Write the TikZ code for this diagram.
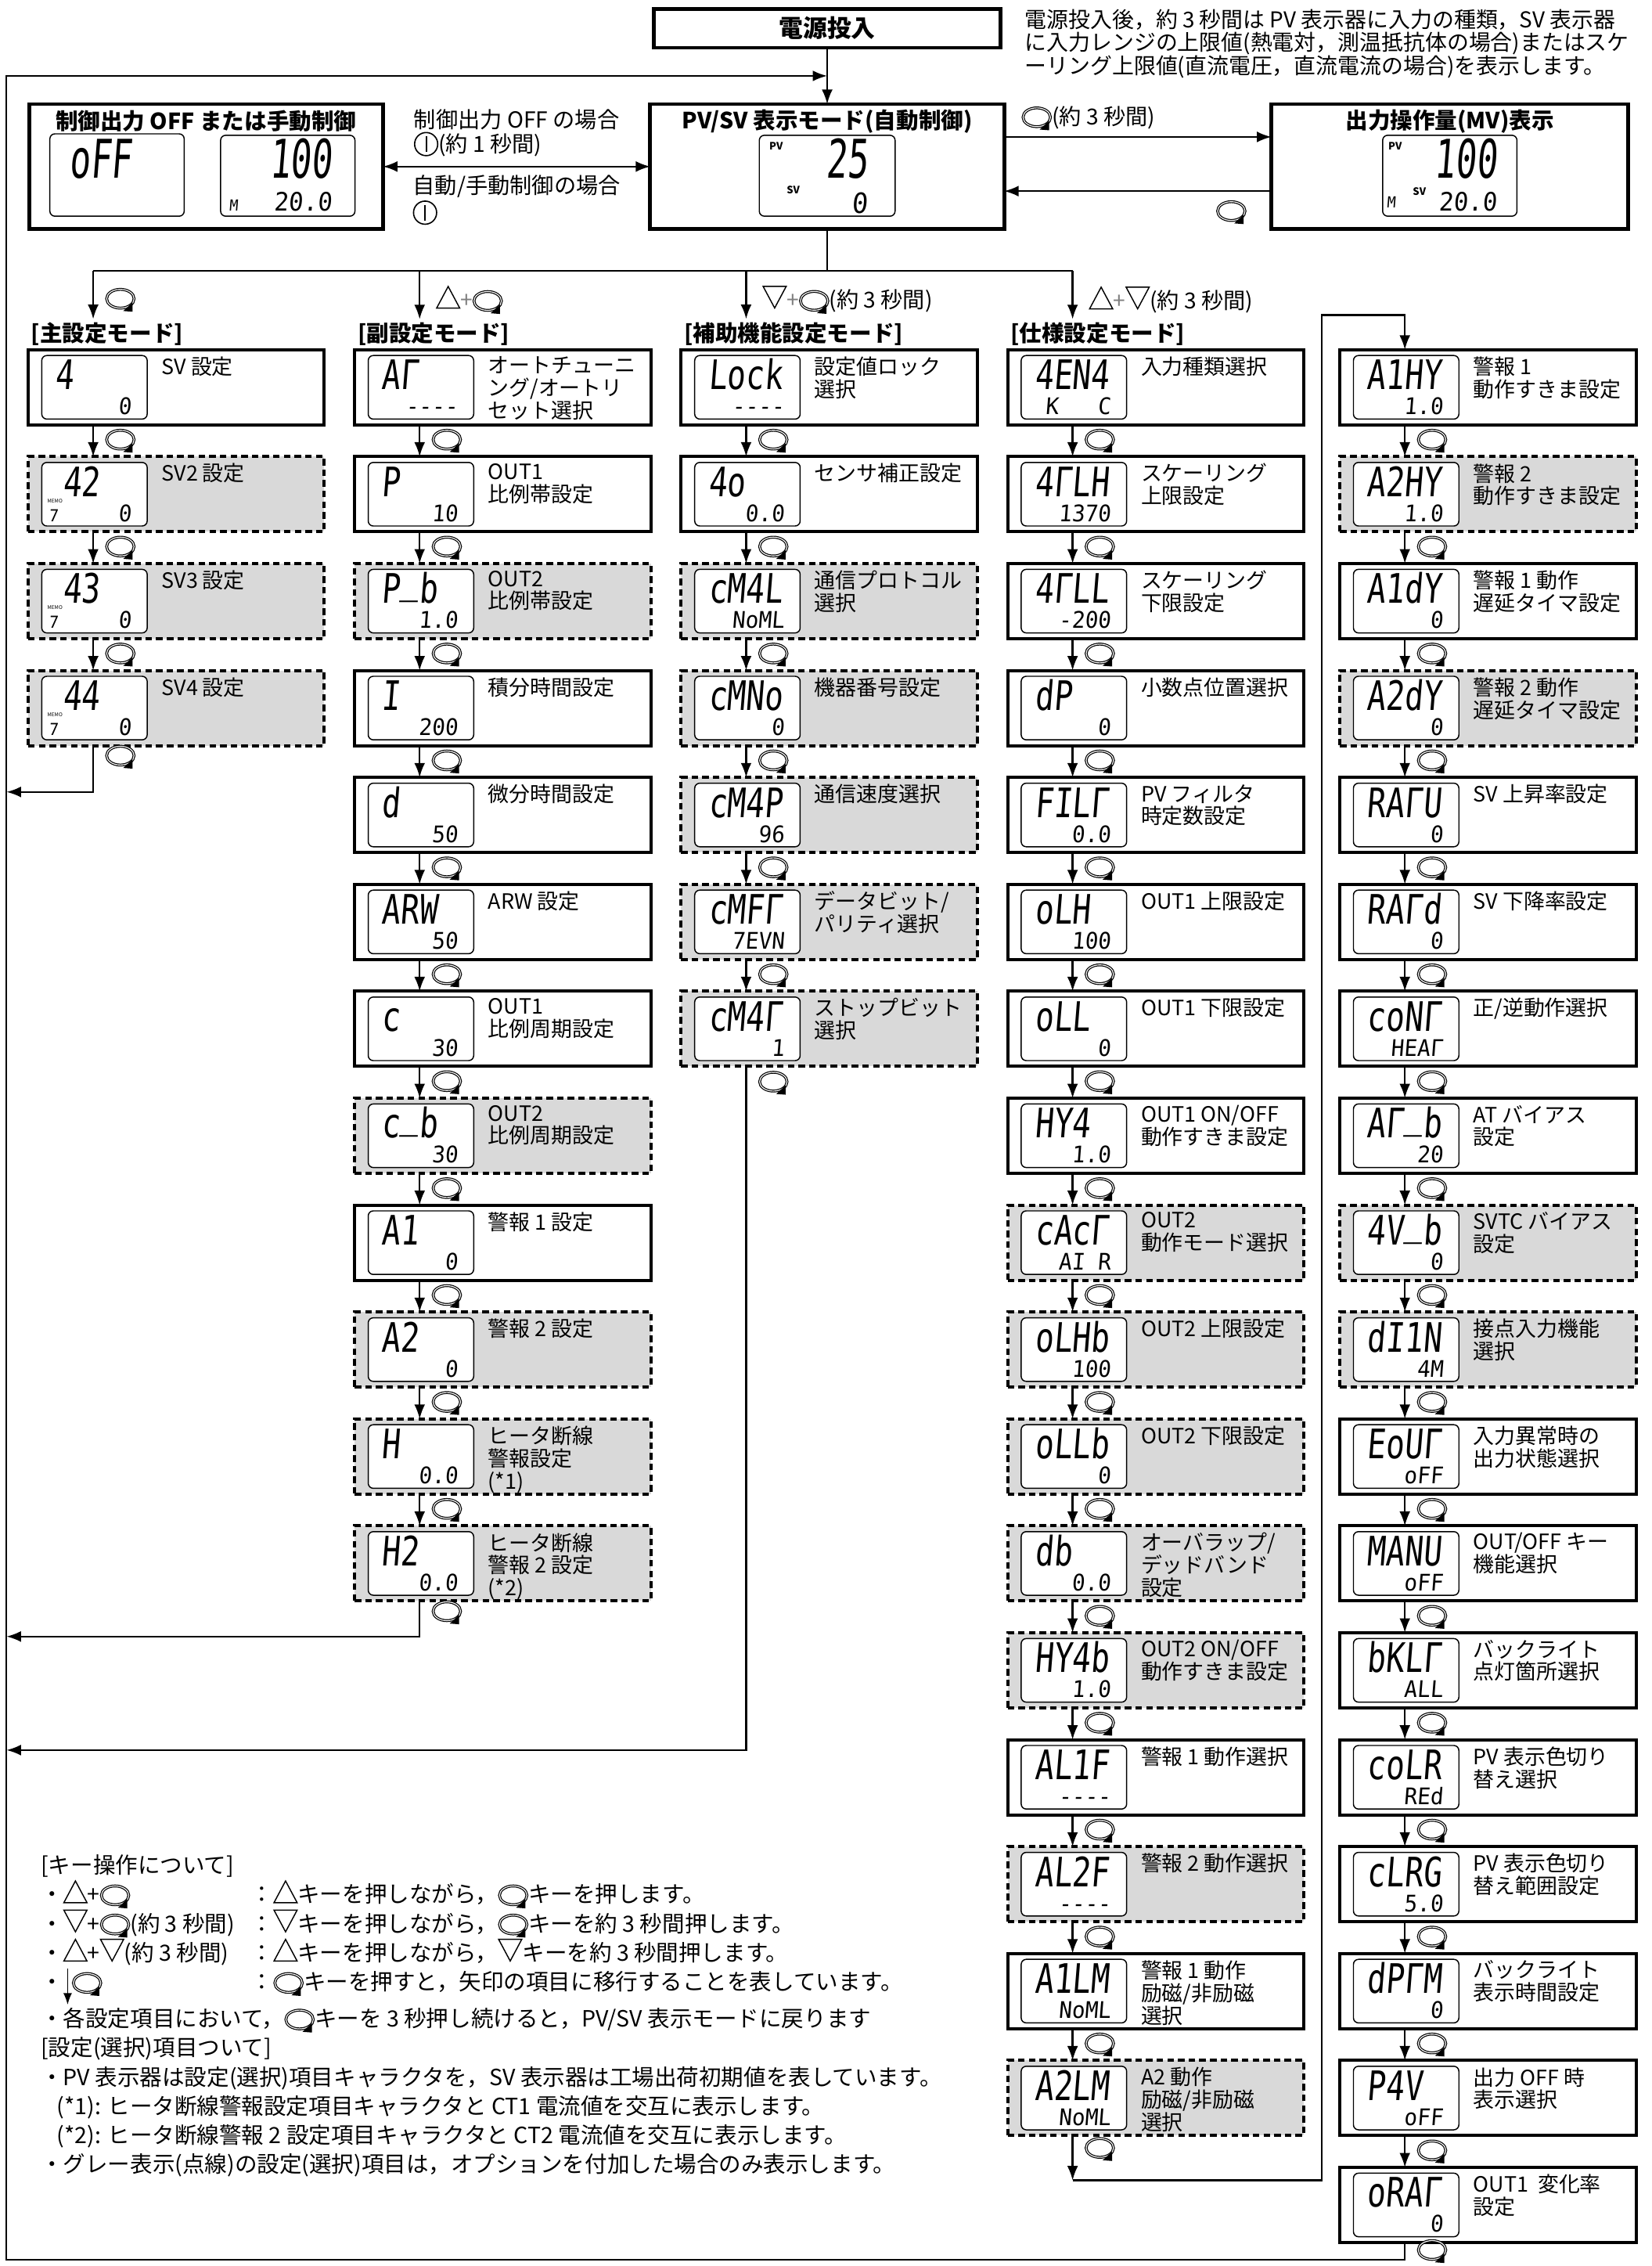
\documentclass[tikz,border=0pt]{standalone}
\usepackage{fontspec}
\setmainfont{Noto Sans CJK JP}
\newfontfamily\segfont{DejaVu Sans Mono}[FakeSlant=0.08,FakeStretch=0.76]
\newfontfamily\segwide{DejaVu Sans Mono}[FakeSlant=0.08,FakeStretch=0.95]
\newfontfamily\segbig{DejaVu Sans Mono}[FakeSlant=0.08,FakeStretch=0.65]
\usepackage{xcolor}
\usepackage{tikz}
\usetikzlibrary{arrows.meta,positioning,calc}
\definecolor{optgray}{HTML}{D9D9D9}

% key symbols
\newcommand{\modekey}{\tikz[baseline=-0.6ex]{%
  \draw[-,line width=1.1pt] (0,0) ellipse (0.19cm and 0.13cm);
  \draw[-,white,line width=0.35pt] (0,0) ellipse (0.19cm and 0.13cm);
  \fill (0.04cm,-0.17cm) -- (0.17cm,-0.05cm) -- (0.17cm,-0.18cm) -- cycle;}}
\newcommand{\offkey}{\tikz[baseline=-0.65ex]{%
  \draw[-,line width=0.5pt] (0,0) circle (0.16cm);
  \draw[-,line width=0.6pt] (0,-0.11cm) -- (0,0.11cm);}}
\newcommand{\upkey}{\tikz[baseline=0pt]{\draw[-,line width=0.45pt] (0,0) -- (0.32cm,0) -- (0.16cm,0.3cm) -- cycle;}}
\newcommand{\dnkey}{\tikz[baseline=0pt]{\draw[-,line width=0.45pt] (0,0.3cm) -- (0.32cm,0.3cm) -- (0.16cm,0) -- cycle;}}
\newcommand{\downmark}{\tikz[baseline=0pt]{\draw[line width=0.5pt,-{Latex[length=0.16cm,width=0.12cm]}] (0,0.3cm) -- (0,-0.2cm);}}
\newcommand{\segbar}{\raisebox{0.25em}{\_}}

% setting item: name, box style, placement, PV text, SV text, label
\newcommand{\sitem}[6]{%
  \node[#2,#3] (#1) {};
  \node[lcd,anchor=west] (lcd-#1) at ([xshift=0.18cm]#1.west) {};
  \node[segup] at ([shift={(0.19cm,-0.48cm)}]lcd-#1.north west) {#4};
  \node[seglo] at ([shift={(-0.22cm,0.07cm)}]lcd-#1.south east) {#5};
  \node[itemlabel] at ([shift={(1.84cm,-0.09cm)}]#1.north west) {#6};}

\begin{document}
\begin{tikzpicture}[x=0.02cm, y=-0.02cm,
  conn/.style={line width=0.7pt},
  arr/.style={conn, -{Latex[length=0.2cm,width=0.15cm]}},
  arr2/.style={conn, {Latex[length=0.2cm,width=0.15cm]}-{Latex[length=0.2cm,width=0.15cm]}},
  topbox/.style={draw, line width=1.5pt, minimum width=4.9cm, minimum height=1.73cm, inner sep=0pt, outer sep=0pt},
  pwrbox/.style={draw, line width=1.5pt, minimum width=4.8cm, minimum height=0.54cm, inner sep=0pt, outer sep=0pt, font=\bfseries\fontsize{9.5}{10}\selectfont},
  setbox/.style={draw, line width=1.2pt, fill=white, minimum width=4.1cm, minimum height=1.04cm, inner sep=0pt, outer sep=0pt},
  optbox/.style={setbox, fill=optgray, dash pattern=on 2.6pt off 1.6pt},
  lcd/.style={draw, line width=0.45pt, rounded corners=2pt, fill=white, minimum width=1.46cm, minimum height=0.88cm, inner sep=0pt},
  segup/.style={anchor=base west, inner sep=0pt, font=\segfont\fontsize{16}{16}\selectfont},
  seglo/.style={anchor=base east, inner sep=0pt, font=\segwide\fontsize{9}{9}\selectfont},
  bigseg/.style={inner sep=0pt, font=\segbig\fontsize{21}{21}\selectfont},
  midseg/.style={inner sep=0pt, font=\segwide\fontsize{10}{10}\selectfont},
  tinytxt/.style={inner sep=0pt, font=\bfseries\fontsize{4}{4}\selectfont},
  itemlabel/.style={anchor=north west, inner sep=0pt, align=left, font=\fontsize{8.3}{8.9}\selectfont},
  boxtitle/.style={inner sep=0pt, font=\bfseries\fontsize{8.8}{10}\selectfont},
  hdr/.style={anchor=south west, inner sep=1pt, font=\bfseries\fontsize{8.8}{10}\selectfont},
  arrowlab/.style={inner sep=1pt, align=left, font=\fontsize{8.7}{9.4}\selectfont},
  keylab/.style={right=0.16cm, inner sep=0pt},
  modelab/.style={right=0.22cm, inner sep=0pt, font=\fontsize{8.7}{9.4}\selectfont},
  notetext/.style={anchor=north west, inner sep=0pt, align=left, font=\fontsize{8.6}{9.1}\selectfont},
  keynotes/.style={anchor=north west, inner sep=0pt, align=left, font=\fontsize{8.8}{11.5}\selectfont}
]
\path[use as bounding box, fill=white] (0,0) rectangle (1143,1568);

% top row
\node[topbox] (pvsv) at (572.5,115.25) {};
\node[topbox, left=3.7cm of pvsv] (offbox) {};
\node[topbox, minimum width=4.94cm, right=3.7cm of pvsv] (mv) {};
\node[pwrbox, above=0.78cm of pvsv] (power) {電源投入};
\node[notetext] (note) at (709,6) {電源投入後，約 3 秒間は PV 表示器に入力の種類，SV 表示器\\に入力レンジの上限値(熱電対，測温抵抗体の場合)またはスケ\\ーリング上限値(直流電圧，直流電流の場合)を表示します。};

\node[boxtitle] at ([yshift=-0.24cm]offbox.north) {制御出力 OFF または手動制御};
\node[boxtitle] at ([yshift=-0.24cm]pvsv.north) {PV/SV 表示モード(自動制御)};
\node[boxtitle] at ([yshift=-0.24cm]mv.north) {出力操作量(MV)表示};

\node[lcd, minimum width=1.86cm, minimum height=1.14cm, anchor=south west] (lcd-off) at ([shift={(0.28cm,0.17cm)}]offbox.south west) {};
\node[lcd, minimum width=1.86cm, minimum height=1.12cm, anchor=south east] (lcd-man) at ([shift={(-0.38cm,0.17cm)}]offbox.south east) {};
\node[lcd, minimum width=1.88cm, minimum height=1.12cm, anchor=south] (lcd-pv) at ([yshift=0.17cm]pvsv.south) {};
\node[lcd, minimum width=1.86cm, minimum height=1.12cm, anchor=south] (lcd-mv) at ([yshift=0.17cm]mv.south) {};

\node[bigseg, anchor=base west] at ([shift={(0.27cm,-0.62cm)}]lcd-off.north west) {oFF};
\node[bigseg, anchor=base east] at ([shift={(-0.32cm,-0.6cm)}]lcd-man.north east) {100};
\node[midseg, anchor=base east] at ([shift={(-0.32cm,0.08cm)}]lcd-man.south east) {20.0};
\node[tinytxt, font=\segwide\fontsize{6}{6}\selectfont, anchor=base west] at ([shift={(0.12cm,0.08cm)}]lcd-man.south west) {M};

\node[tinytxt, anchor=north west] at ([shift={(0.14cm,-0.1cm)}]lcd-pv.north west) {PV};
\node[bigseg, anchor=base east] at ([shift={(-0.38cm,-0.6cm)}]lcd-pv.north east) {25};
\node[tinytxt, anchor=base west] at ([shift={(0.38cm,0.32cm)}]lcd-pv.south west) {SV};
\node[midseg, font=\segwide\fontsize{11}{11}\selectfont, anchor=base east] at ([shift={(-0.38cm,0.05cm)}]lcd-pv.south east) {0};

\node[tinytxt, anchor=north west] at ([shift={(0.08cm,-0.1cm)}]lcd-mv.north west) {PV};
\node[bigseg, anchor=base east] at ([shift={(-0.28cm,-0.6cm)}]lcd-mv.north east) {100};
\node[tinytxt, font=\segwide\fontsize{6}{6}\selectfont, anchor=base west] at ([shift={(0.06cm,0.12cm)}]lcd-mv.south west) {M};
\node[tinytxt, anchor=base west] at ([shift={(0.42cm,0.3cm)}]lcd-mv.south west) {SV};
\node[midseg, anchor=base east] at ([shift={(-0.28cm,0.08cm)}]lcd-mv.south east) {20.0};

\coordinate (join) at ($(power.south)!0.5!(pvsv.north)$);
\draw[arr] (power) -- (pvsv);
\draw[arr2] (offbox) -- (pvsv)
  node[midway, above=0.1cm, arrowlab] {制御出力 OFF の場合\\\offkey(約 1 秒間)}
  node[midway, below=0.08cm, arrowlab] {自動/手動制御の場合\\\offkey};
\draw[arr] ([yshift=0.41cm]pvsv.east) -- ([yshift=0.41cm]mv.west)
  node[pos=0, anchor=south west, xshift=0.2cm, yshift=0.05cm, arrowlab] {\modekey(約 3 秒間)};
\draw[arr] ([yshift=-0.34cm]mv.west) -- ([yshift=-0.34cm]pvsv.east)
  node[pos=0.15, below=0.12cm, inner sep=0pt] {\modekey};

% main setting mode
\sitem{main1}{setbox}{anchor=north west, at={(19.5,242)}}{4}{0}{SV 設定}
\sitem{main2}{optbox}{below=0.44cm of main1}{\hspace*{0.1cm}42}{0}{SV2 設定}
\sitem{main3}{optbox}{below=0.44cm of main2}{\hspace*{0.1cm}43}{0}{SV3 設定}
\sitem{main4}{optbox}{below=0.44cm of main3}{\hspace*{0.1cm}44}{0}{SV4 設定}
\foreach \m in {main2,main3,main4}{
  \node[inner sep=0pt, font=\segwide\fontsize{6.5}{6.5}\selectfont, anchor=base west] at ([shift={(0.1cm,0.07cm)}]lcd-\m.south west) {7};
  \node[inner sep=0pt, font=\fontsize{2}{2.4}\selectfont, anchor=base west] at ([shift={(0.08cm,0.33cm)}]lcd-\m.south west) {MEMO};
}

% sub setting mode
\sitem{sub1}{setbox}{right=0.42cm of main1}{AΓ}{-{}-{}-{}-}{オートチューニ\\ング/オートリ\\セット選択}
\sitem{sub2}{setbox}{below=0.44cm of sub1}{P}{10}{OUT1\\比例帯設定}
\sitem{sub3}{optbox}{below=0.44cm of sub2}{P\segbar b}{1.0}{OUT2\\比例帯設定}
\sitem{sub4}{setbox}{below=0.44cm of sub3}{I}{200}{積分時間設定}
\sitem{sub5}{setbox}{below=0.44cm of sub4}{d}{50}{微分時間設定}
\sitem{sub6}{setbox}{below=0.44cm of sub5}{ARW}{50}{ARW 設定}
\sitem{sub7}{setbox}{below=0.44cm of sub6}{c}{30}{OUT1\\比例周期設定}
\sitem{sub8}{optbox}{below=0.44cm of sub7}{c\segbar b}{30}{OUT2\\比例周期設定}
\sitem{sub9}{setbox}{below=0.44cm of sub8}{A1}{0}{警報 1 設定}
\sitem{sub10}{optbox}{below=0.44cm of sub9}{A2}{0}{警報 2 設定}
\sitem{sub11}{optbox}{below=0.44cm of sub10}{H}{0.0}{ヒータ断線\\警報設定\\(*1)}
\sitem{sub12}{optbox}{below=0.44cm of sub11}{H2}{0.0}{ヒータ断線\\警報 2 設定\\(*2)}

% auxiliary function setting mode
\sitem{aux1}{setbox}{right=0.42cm of sub1}{Lock}{-{}-{}-{}-}{設定値ロック\\選択}
\sitem{aux2}{setbox}{below=0.44cm of aux1}{4o}{0.0}{センサ補正設定}
\sitem{aux3}{optbox}{below=0.44cm of aux2}{cM4L}{NoML}{通信プロトコル\\選択}
\sitem{aux4}{optbox}{below=0.44cm of aux3}{cMNo}{0}{機器番号設定}
\sitem{aux5}{optbox}{below=0.44cm of aux4}{cM4P}{96}{通信速度選択}
\sitem{aux6}{optbox}{below=0.44cm of aux5}{cMFΓ}{7EVN}{データビット/\\パリティ選択}
\sitem{aux7}{optbox}{below=0.44cm of aux6}{cM4Γ}{1}{ストップビット\\選択}

% specification setting mode
\sitem{spec1}{setbox}{right=0.42cm of aux1}{4EN4}{K~~~C}{入力種類選択}
\sitem{spec2}{setbox}{below=0.44cm of spec1}{4ΓLH}{1370}{スケーリング\\上限設定}
\sitem{spec3}{setbox}{below=0.44cm of spec2}{4ΓLL}{-200}{スケーリング\\下限設定}
\sitem{spec4}{setbox}{below=0.44cm of spec3}{dP}{0}{小数点位置選択}
\sitem{spec5}{setbox}{below=0.44cm of spec4}{FILΓ}{0.0}{PV フィルタ\\時定数設定}
\sitem{spec6}{setbox}{below=0.44cm of spec5}{oLH}{100}{OUT1 上限設定}
\sitem{spec7}{setbox}{below=0.44cm of spec6}{oLL}{0}{OUT1 下限設定}
\sitem{spec8}{setbox}{below=0.44cm of spec7}{HY4}{1.0}{OUT1 ON/OFF\\動作すきま設定}
\sitem{spec9}{optbox}{below=0.44cm of spec8}{cAcΓ}{AI R}{OUT2\\動作モード選択}
\sitem{spec10}{optbox}{below=0.44cm of spec9}{oLHb}{100}{OUT2 上限設定}
\sitem{spec11}{optbox}{below=0.44cm of spec10}{oLLb}{0}{OUT2 下限設定}
\sitem{spec12}{optbox}{below=0.44cm of spec11}{db}{0.0}{オーバラップ/\\デッドバンド\\設定}
\sitem{spec13}{optbox}{below=0.44cm of spec12}{HY4b}{1.0}{OUT2 ON/OFF\\動作すきま設定}
\sitem{spec14}{setbox}{below=0.44cm of spec13}{AL1F}{-{}-{}-{}-}{警報 1 動作選択}
\sitem{spec15}{optbox}{below=0.44cm of spec14}{AL2F}{-{}-{}-{}-}{警報 2 動作選択}
\sitem{spec16}{setbox}{below=0.44cm of spec15}{A1LM}{NoML}{警報 1 動作\\励磁/非励磁\\選択}
\sitem{spec17}{optbox}{below=0.44cm of spec16}{A2LM}{NoML}{A2 動作\\励磁/非励磁\\選択}

\sitem{spec18}{setbox}{right=0.5cm of spec1}{A1HY}{1.0}{警報 1\\動作すきま設定}
\sitem{spec19}{optbox}{below=0.44cm of spec18}{A2HY}{1.0}{警報 2\\動作すきま設定}
\sitem{spec20}{setbox}{below=0.44cm of spec19}{A1dY}{0}{警報 1 動作\\遅延タイマ設定}
\sitem{spec21}{optbox}{below=0.44cm of spec20}{A2dY}{0}{警報 2 動作\\遅延タイマ設定}
\sitem{spec22}{setbox}{below=0.44cm of spec21}{RAΓU}{0}{SV 上昇率設定}
\sitem{spec23}{setbox}{below=0.44cm of spec22}{RAΓd}{0}{SV 下降率設定}
\sitem{spec24}{setbox}{below=0.44cm of spec23}{coNΓ}{HEAΓ}{正/逆動作選択}
\sitem{spec25}{setbox}{below=0.44cm of spec24}{AΓ\segbar b}{20}{AT バイアス\\設定}
\sitem{spec26}{optbox}{below=0.44cm of spec25}{4V\segbar b}{0}{SVTC バイアス\\設定}
\sitem{spec27}{optbox}{below=0.44cm of spec26}{dI1N}{4M}{接点入力機能\\選択}
\sitem{spec28}{setbox}{below=0.44cm of spec27}{EoUΓ}{oFF}{入力異常時の\\出力状態選択}
\sitem{spec29}{setbox}{below=0.44cm of spec28}{MANU}{oFF}{OUT/OFF キー\\機能選択}
\sitem{spec30}{setbox}{below=0.44cm of spec29}{bKLΓ}{ALL}{バックライト\\点灯箇所選択}
\sitem{spec31}{setbox}{below=0.44cm of spec30}{coLR}{REd}{PV 表示色切り\\替え選択}
\sitem{spec32}{setbox}{below=0.44cm of spec31}{cLRG}{5.0}{PV 表示色切り\\替え範囲設定}
\sitem{spec33}{setbox}{below=0.44cm of spec32}{dPΓM}{0}{バックライト\\表示時間設定}
\sitem{spec34}{setbox}{below=0.44cm of spec33}{P4V}{oFF}{出力 OFF 時\\表示選択}
\sitem{spec35}{setbox}{below=0.44cm of spec34}{oRAΓ}{0}{OUT1~ 変化率\\設定}

% mode headers and branches
\node[hdr] (h1) at ([yshift=0.02cm]main1.north west) {[主設定モード]};
\node[hdr] (h2) at ([yshift=0.02cm]sub1.north west) {[副設定モード]};
\node[hdr] (h3) at ([yshift=0.02cm]aux1.north west) {[補助機能設定モード]};
\node[hdr] (h4) at ([yshift=0.02cm]spec1.north west) {[仕様設定モード]};
\coordinate (lane1) at ([xshift=0.9cm]main1.north west);
\coordinate (lane2) at ([xshift=0.9cm]sub1.north west);
\coordinate (lane3) at ([xshift=0.9cm]aux1.north west);
\coordinate (lane4) at ([xshift=0.9cm]spec1.north west);
\coordinate (bus) at ([yshift=-0.58cm]pvsv.south);

\draw[conn] (pvsv) -- (bus);
\draw[conn] (lane1 |- bus) -- (lane4 |- bus);
\draw[arr] (lane1 |- bus) -- (lane1 |- h1.north) node[pos=0.6, keylab] {\modekey};
\draw[arr] (lane2 |- bus) -- (lane2 |- h2.north) node[pos=0.6, modelab] {\upkey{\color{gray}+}\modekey};
\draw[arr] (lane3 |- bus) -- (lane3 |- h3.north) node[pos=0.6, modelab] {\dnkey{\color{gray}+}\modekey(約 3 秒間)};
\draw[arr] (lane4 |- bus) -- (lane4 |- h4.north) node[pos=0.6, modelab] {\upkey{\color{gray}+}\dnkey(約 3 秒間)};

% steps inside each mode
\foreach \col/\first/\last in {main/2/4, sub/2/12, aux/2/7, spec/2/17, spec/19/35}{
  \foreach \i in {\first,...,\last}{
    \pgfmathtruncatemacro\j{\i-1}
    \draw[arr] ([xshift=0.9cm]\col\j.south west) -- ([xshift=0.9cm]\col\i.north west)
      node[midway, keylab] {\modekey};
  }
}

% returns to PV/SV display
\coordinate (back) at (4.5,1563.6);
\coordinate (r1) at (4.5,548);
\coordinate (r2) at (4.5,1132.4);
\coordinate (r3) at (4.5,1211);
\draw[arr] ([xshift=0.9cm]main4.south west) |- (r1) node[pos=0.12, keylab] {\modekey};
\draw[arr] ([xshift=0.9cm]sub12.south west) |- (r2) node[pos=0.16, keylab] {\modekey};
\draw[arr] ([xshift=0.9cm]aux7.south west) |- (r3) node[pos=0.012, keylab] {\modekey};
\coordinate (c4end) at ([shift={(0.9cm,-0.62cm)}]spec17.south west);
\coordinate (c4up) at ([shift={(0.25cm,0.48cm)}]spec1.north east);
\draw[arr] ([xshift=0.9cm]spec17.south west) -- (c4end) node[pos=0.3, keylab] {\modekey};
\draw[arr] (c4end) -| (c4up) -| ([xshift=0.9cm]spec18.north west);
\draw[arr] ([xshift=0.9cm]spec35.south west) |- (back) node[pos=0.25, keylab] {\modekey} |- (join);

% notes
\node[keynotes] (keys) at (28,1283) {[キー操作について]\\
・\makebox[2.6cm][l]{\upkey+\modekey}：\upkey{}キーを押しながら，\modekey{}キーを押します。\\
・\makebox[2.6cm][l]{\dnkey+\modekey(約 3 秒間)}：\dnkey{}キーを押しながら，\modekey{}キーを約 3 秒間押します。\\
・\makebox[2.6cm][l]{\upkey+\dnkey(約 3 秒間)}：\upkey{}キーを押しながら，\dnkey{}キーを約 3 秒間押します。\\
・\makebox[2.6cm][l]{\downmark\modekey}：\modekey{}キーを押すと，矢印の項目に移行することを表しています。\\
・各設定項目において，\modekey{}キーを 3 秒押し続けると，PV/SV 表示モードに戻ります\\{}%
[設定(選択)項目ついて]\\
・PV 表示器は設定(選択)項目キャラクタを，SV 表示器は工場出荷初期値を表しています。\\
\hspace*{0.22cm}(*1): ヒータ断線警報設定項目キャラクタと CT1 電流値を交互に表示します。\\
\hspace*{0.22cm}(*2): ヒータ断線警報 2 設定項目キャラクタと CT2 電流値を交互に表示します。\\
・グレー表示(点線)の設定(選択)項目は，オプションを付加した場合のみ表示します。};
\end{tikzpicture}
\end{document}
